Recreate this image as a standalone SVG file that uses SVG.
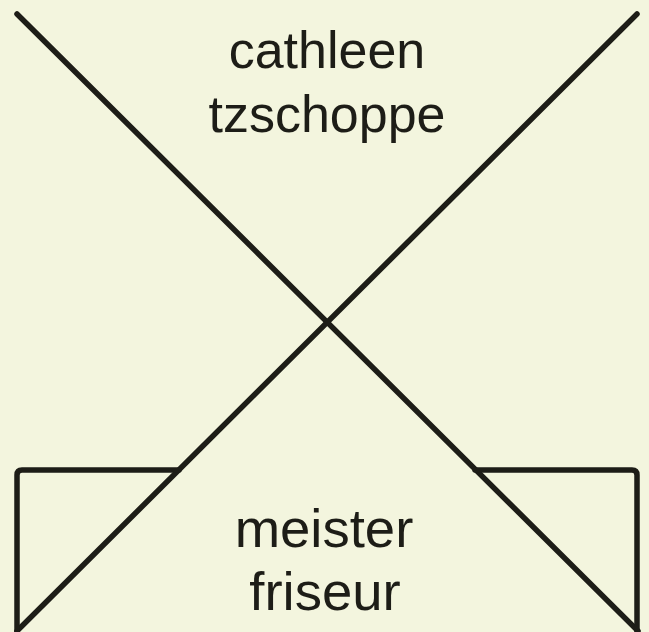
<svg xmlns="http://www.w3.org/2000/svg" width="649" height="632" viewBox="0 0 649 632">
<style>
.ln{fill:none;stroke:#1d1d17;stroke-width:5.5;stroke-linecap:round;stroke-linejoin:round}
.t{font-family:"Liberation Sans",Arial,sans-serif;font-size:52px;fill:#1d1d17;text-anchor:middle}
.b{font-size:54.5px}
</style>
<rect width="649" height="632" fill="#f3f5de"/>
<g id="lines">
<path class="ln" d="M17,14 L638,631"/>
<path class="ln" d="M637,14 L17,631"/>
<path class="ln" d="M179,470 H22 Q17,470 17,475 V640"/>
<path class="ln" d="M475,470 H632 Q637,470 637,475 V640"/>
</g>
<g id="top-text">
<text class="t" x="327" y="68">cathleen</text>
<text class="t" x="327" y="132">tzschoppe</text>
</g>
<g id="bottom-text">
<text class="t b" x="324" y="547">meister</text>
<text class="t b" x="325" y="610">friseur</text>
</g>
</svg>
